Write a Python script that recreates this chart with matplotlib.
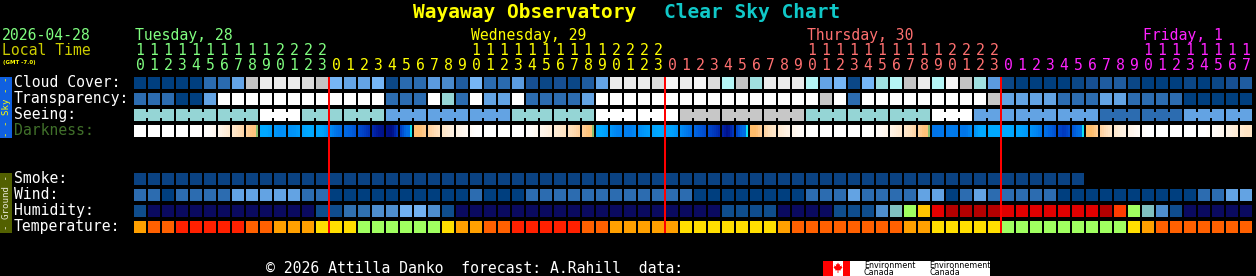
import numpy as np
import matplotlib
matplotlib.use("Agg")
import matplotlib.pyplot as plt
from matplotlib.colors import LinearSegmentedColormap
from matplotlib.patches import Rectangle, Polygon

plt.rcParams['font.family'] = ['DejaVu Sans Mono', 'DejaVu Sans']

# ---------------- data ----------------
SITE = "Wayaway Observatory"
CHART = "Clear Sky Chart"
DATE_TEXT = "2026-04-28"
LOCAL_TEXT = "Local Time"
TZ_TEXT = "(GMT -7.0)"
FOOTER = "\u00a9 2026 Attilla Danko  forecast: A.Rahill  data:"

DAY_NAMES = ["Tuesday, 28", "Wednesday, 29", "Thursday, 30", "Friday, 1"]

HOURS = [10, 11, 12, 13, 14, 15, 16, 17, 18, 19, 20, 21, 22, 23,
         0, 1, 2, 3, 4, 5, 6, 7, 8, 9, 10, 11, 12, 13, 14, 15, 16, 17, 18, 19, 20, 21, 22, 23,
         0, 1, 2, 3, 4, 5, 6, 7, 8, 9, 10, 11, 12, 13, 14, 15, 16, 17, 18, 19, 20, 21, 22, 23,
         0, 1, 2, 3, 4, 5, 6, 7, 8, 9, 10, 11, 12, 13, 14, 15, 16, 17]

SKY_LABELS = ["Cloud Cover:", "Transparency:", "Seeing:", "Darkness:"]
GROUND_LABELS = ["Smoke:", "Wind:", "Humidity:", "Temperature:"]

# cloud cover level (0 = clear ... 14 = overcast)
CLOUD_LEVEL = [0, 0, 0, 0, 0, 4, 4, 7, 11, 13,
               13, 13, 12, 11, 8, 7, 7, 8, 1, 4,
               4, 6, 5, 3, 8, 4, 4, 6, 2, 1,
               2, 1, 3, 7, 13, 13, 13, 12, 14, 13,
               14, 12, 10, 11, 9, 13, 13, 13, 10, 7,
               8, 1, 8, 9, 10, 11, 13, 10, 14, 11,
               9, 6, 1, 0, 0, 0, 0, 1, 2, 3,
               3, 1, 0, 0, 0, 1, 0, 1, 2, 3]

# transparency (0 transparent ... 4 poor, 5 too cloudy)
TRANSPARENCY_LEVEL = [1, 1, 1, 0, 0, 2, 5, 5, 5, 5,
                      5, 5, 5, 5, 5, 5, 5, 5, 1, 1,
                      1, 5, 3, 1, 5, 2, 2, 5, 1, 1,
                      1, 1, 2, 5, 5, 5, 5, 5, 5, 5,
                      5, 5, 5, 5, 5, 5, 5, 5, 5, 4,
                      5, 1, 5, 5, 5, 5, 5, 5, 5, 5,
                      5, 4, 2, 2, 2, 2, 1, 1, 1, 2,
                      2, 1, 1, 1, 1, 0, 0, 0, 0, 0]

# seeing per 3-hour block (0 excellent ... 4 bad, 5 too cloudy)
SEEING_LEVEL_3H = [3, 3, 3, 5, 3, 3, 2, 2, 2, 3, 3, 5, 5, 4,
                   4, 4, 3, 3, 3, 5, 2, 2, 2, 1, 1, 2, 2]

# darkness (0 daylight .. 4 twilight ; 7 moonlit .. 12 darkest)
DARKNESS = [0, 0, 0, 0, 0, 0.3, 1.2, 2.2, 3.5, 7,
            7.8, 7.6, 7, 7.1, 8.5, 9, 10, 11.3, 11.6, 8.7,
            3.7, 2.5, 1.5, 0.7, 0, 0, 0, 0, 0.3, 1,
            1.8, 2.5, 3.6, 7, 8, 8.3, 7.5, 7, 7.2, 8.3,
            9.3, 10.2, 11.5, 8.7, 3.8, 2.2, 1.2, 0.5, 0, 0,
            0, 0, 0, 0.5, 1.3, 2.2, 3.6, 8.5, 8.3, 8.5,
            7, 7, 7, 7.2, 8, 9, 10.3, 8.7, 3.8, 2.3,
            1.3, 0.6, 0, 0, 0, 0, 0, 0.5, 1.2, 2]

SMOKE_LEVEL = [0, 0, 0, 0, 0, 0, 0, 0, 0, 0,
               0, 0, 0, 0, 0, 0, 0, 0, 0, 0,
               0, 0, 0, 0, 0, 0, 0, 0, 0, 0,
               0, 0, 0, 0, 0, 0, 0, 0, 0, 0,
               0, 0, 0, 0, 0, 0, 0, 0, 0, 0,
               0, 0, 0, 0, 0, 0, 0, 0, 0, 0,
               0, 0, 0, 0, 0, 0, 0, 0]

# wind (0 = 0-5 mph, 1 = 6-11 mph, 2 = 12-16 mph)
WIND_LEVEL = [1, 1, 0, 1, 1, 1, 1, 2, 2, 2,
              2, 2, 1, 1, 0, 0, 0, 0, 0, 0,
              0, 0, 0, 0, 1, 0, 0, 0, 1, 1,
              1, 1, 1, 1, 1, 1, 1, 1, 1, 1,
              0, 0, 0, 0, 0, 0, 0, 0, 1, 1,
              1, 2, 1, 1, 1, 1, 2, 2, 0, 1,
              2, 1, 1, 1, 1, 1, 0, 0, 0, 0,
              0, 0, 0, 0, 0, 0, 1, 1, 2, 2]

HUMIDITY_PCT = [27, 20, 20, 20, 20, 20, 20, 20, 20, 20,
                20, 20, 20, 27, 27, 32, 32, 37, 37, 42,
                42, 37, 27, 20, 20, 20, 20, 20, 20, 20,
                20, 20, 20, 20, 20, 20, 20, 20, 20, 20,
                20, 20, 27, 27, 27, 27, 20, 20, 20, 20,
                27, 27, 27, 37, 47, 62, 72, 87, 92, 92,
                92, 92, 97, 97, 97, 97, 97, 97, 97, 92,
                82, 62, 47, 37, 27, 20, 20, 20, 20, 20]

TEMPERATURE_F = [79, 84, 84, 90, 90, 90, 90, 90, 84, 84,
                 79, 79, 79, 75, 75, 75, 68, 68, 68, 68,
                 68, 68, 75, 79, 79, 84, 84, 90, 90, 90,
                 90, 90, 84, 84, 79, 79, 79, 79, 79, 75,
                 75, 75, 75, 75, 75, 75, 79, 84, 84, 84,
                 84, 84, 84, 84, 84, 79, 79, 75, 75, 75,
                 75, 75, 68, 68, 68, 68, 68, 68, 68, 68,
                 68, 75, 79, 84, 84, 84, 84, 84, 84, 84]

# ---------------- styles ----------------
DAY_COLORS = ["#80ff80", "#ffff00", "#ff7070", "#ff22ff"]
CLOUD_COLORS = ['#003f7f', '#0b4787', '#164f93', '#1f5ca0', '#2a6bb0', '#4a8acc',
                '#5b9be0', '#64a4e6', '#76b6f6', '#a0e0e0', '#b5f6f6', '#c4c4c4',
                '#dcdcdc', '#ebebeb', '#f5f5f5']
TRANSP_COLORS = ['#003f7f', '#2c6cb0', '#63a3e3', '#95d5d5', '#c7c7c7', '#ffffff']
SEEING_COLORS = ['#003f7f', '#2c6cb0', '#63a3e3', '#95d5d5', '#c7c7c7', '#ffffff']
SMOKE_COLORS = ['#0a4282']
WIND_COLORS = ['#003f7f', '#2c6cb0', '#63a3e3']
HUMID_COLORS = {20: '#0a0a60', 27: '#0f4d8d', 32: '#3070b0', 37: '#4e8ece',
                42: '#71b1f1', 47: '#80c0c0', 62: '#a0ff60', 72: '#ffc400',
                82: '#ff3c00', 87: '#e60000', 92: '#b40000', 97: '#e00000'}
TEMP_COLORS = {68: '#a0ff60', 75: '#ffde00', 79: '#ffa000', 84: '#ff6000', 90: '#ff2000'}
DARK_CMAP = LinearSegmentedColormap.from_list('darkness', [
    (0 / 12, '#ffffff'), (1 / 12, '#fff2e4'), (2 / 12, '#ffe4c4'), (3 / 12, '#ffd09c'),
    (4 / 12, '#ffb860'), (5 / 12, '#88c070'), (6 / 12, '#00e0f0'), (7 / 12, '#00a8ff'),
    (8 / 12, '#0086f2'), (9 / 12, '#0062de'), (10 / 12, '#0040c4'), (11 / 12, '#0020a4'),
    (12 / 12, '#000068')])
SUNSET_STRIPE = '#88c070'
SUNRISE_STRIPE = '#10e0f0'

W, H = 1256, 276
X0, DX, CW, CH = 134, 14, 12, 12
SKY_TOPS = [77, 93, 109, 125]
GROUND_TOPS = [173, 189, 205, 221]
FS = 10.6

fig = plt.figure(figsize=(W / 100, H / 100), dpi=100, facecolor='black')
ax = fig.add_axes([0, 0, 1, 1])
ax.set_xlim(0, W)
ax.set_ylim(H, 0)
ax.axis('off')
ax.set_facecolor('black')

n = len(HOURS)
idx = np.arange(n)


def draw_row(top, colors):
    k = np.arange(len(colors))
    ax.bar(X0 + DX * k, CH, width=CW, bottom=top, align='edge', color=colors,
           linewidth=0, antialiased=False)


# sky rows
draw_row(SKY_TOPS[0], [CLOUD_COLORS[v] for v in CLOUD_LEVEL])
draw_row(SKY_TOPS[1], [TRANSP_COLORS[v] for v in TRANSPARENCY_LEVEL])
seeing_hourly = [SEEING_LEVEL_3H[i // 3] for i in range(n)]
draw_row(SKY_TOPS[2], [SEEING_COLORS[v] for v in seeing_hourly])
# seeing block connectors
cx, cc = [], []
for i in range(n - 1):
    if i // 3 == (i + 1) // 3:
        cx.append(X0 + DX * i + CW)
        cc.append(SEEING_COLORS[seeing_hourly[i]])
ax.bar(cx, 6, width=DX - CW, bottom=SKY_TOPS[2] + 3, align='edge', color=cc,
       linewidth=0, antialiased=False)

# darkness with sub-hour shading
NSUB = 6
NIGHT = 5
xs, cs = [], []
for i, v in enumerate(DARKNESS):
    night = v >= NIGHT
    for k in range(NSUB):
        t = (k + 0.5) / NSUB
        j = i - 1 if t < 0.5 else i + 1
        f = abs(t - 0.5)
        val = v
        if 0 <= j < n and (DARKNESS[j] >= NIGHT) == night:
            val = v + (DARKNESS[j] - v) * f
        col = DARK_CMAP(val / 12)
        if k == NSUB - 1 and j < n and (DARKNESS[j] >= NIGHT) != night:
            col = SUNRISE_STRIPE if night else SUNSET_STRIPE
        xs.append(X0 + DX * i + k * CW / NSUB)
        cs.append(col)
ax.bar(xs, CH, width=CW / NSUB, bottom=SKY_TOPS[3], align='edge', color=cs,
       linewidth=0, antialiased=False)

# ground rows
draw_row(GROUND_TOPS[0], [SMOKE_COLORS[v] for v in SMOKE_LEVEL])
draw_row(GROUND_TOPS[1], [WIND_COLORS[v] for v in WIND_LEVEL])
draw_row(GROUND_TOPS[2], [HUMID_COLORS[v] for v in HUMIDITY_PCT])
draw_row(GROUND_TOPS[3], [TEMP_COLORS[v] for v in TEMPERATURE_F])

# midnight red lines
mids = [i for i, h in enumerate(HOURS) if h == 0 and i > 0]
ax.vlines([X0 + DX * i - 1 for i in mids], SKY_TOPS[0], GROUND_TOPS[3] + CH,
          colors='#ff0000', linewidth=1.44, antialiased=False)

# row labels
for top, lab in zip(SKY_TOPS, SKY_LABELS):
    ax.text(14, top + 10, lab, color='#40702a' if lab.startswith('Dark') else 'white',
            fontsize=FS, va='baseline', ha='left')
for top, lab in zip(GROUND_TOPS, GROUND_LABELS):
    ax.text(14, top + 10, lab, color='white', fontsize=FS, va='baseline', ha='left')

# side bars
ax.add_patch(Rectangle((0, SKY_TOPS[0]), 12, SKY_TOPS[3] + CH + 1 - SKY_TOPS[0],
                       color='#1060e0', linewidth=0))
ax.text(6.5, (SKY_TOPS[0] + SKY_TOPS[3] + CH) / 2, "- - Sky - -", color='#ffff00',
        fontsize=6.6, rotation=90, ha='center', va='center')
ax.add_patch(Rectangle((0, GROUND_TOPS[0]), 12, GROUND_TOPS[3] + CH - GROUND_TOPS[0],
                       color='#526000', linewidth=0))
ax.text(6.5, (GROUND_TOPS[0] + GROUND_TOPS[3] + CH) / 2, "- Ground -", color='#e8e8d8',
        fontsize=6.6, rotation=90, ha='center', va='center')

# header: date, local time
ax.text(2, 40, DATE_TEXT, color='#80ff80', fontsize=FS, va='baseline')
ax.text(2, 55, LOCAL_TEXT, color='#cccc00', fontsize=FS, va='baseline')
ax.text(3, 64, TZ_TEXT, color='#ffff00', fontsize=4.0, va='baseline',
        family='DejaVu Sans', weight='bold')

# hour labels and day names
day = 0
day_of = []
for i, h in enumerate(HOURS):
    if h == 0 and i > 0:
        day += 1
    day_of.append(day)
for i, h in enumerate(HOURS):
    x = X0 + DX * i + CW / 2
    col = DAY_COLORS[day_of[i]]
    if h >= 10:
        ax.text(x, 55, str(h // 10), color=col, fontsize=FS, ha='center', va='baseline')
    ax.text(x, 70, str(h % 10), color=col, fontsize=FS, ha='center', va='baseline')
    if h == 10:
        ax.text(X0 + DX * i + 1, 40, DAY_NAMES[day_of[i]], color=col, fontsize=FS,
                ha='left', va='baseline')

# title
ax.text(413, 17.5, SITE, color='#ffff00', fontsize=14, weight='bold', va='baseline')
ax.text(664, 17.5, CHART, color='#10c8c8', fontsize=14, weight='bold', va='baseline')

# footer
ax.text(266, 272.7, FOOTER, color='white', fontsize=FS, va='baseline')

# Environment Canada logo
ax.add_patch(Rectangle((823, 261), 167, 16, color='white', linewidth=0))
ax.add_patch(Rectangle((823, 261), 10, 15, color='#ff0000', linewidth=0))
ax.add_patch(Rectangle((843, 261), 7, 15, color='#ff0000', linewidth=0))
leaf = np.array([(0, 1), (0.2, 0.6), (0.45, 0.75), (0.35, 0.3), (0.8, 0.45), (0.7, 0.2),
                 (0.9, 0.1), (0.5, -0.3), (0.55, -0.45), (0.08, -0.4), (0.08, -0.9),
                 (-0.08, -0.9), (-0.08, -0.4), (-0.55, -0.45), (-0.5, -0.3), (-0.9, 0.1),
                 (-0.7, 0.2), (-0.8, 0.45), (-0.35, 0.3), (-0.45, 0.75), (-0.2, 0.6)])
ax.add_patch(Polygon(np.column_stack([838 + leaf[:, 0] * 5, 268 - leaf[:, 1] * 5.5]),
                     closed=True, color='#ff0000', linewidth=0))
for xx, l1 in [(864, "Environment"), (929, "Environnement")]:
    ax.text(xx, 268, l1, color='black', fontsize=5.8, family='DejaVu Sans', va='baseline')
    ax.text(xx, 275, "Canada", color='black', fontsize=5.8, family='DejaVu Sans', va='baseline')

fig.savefig('out.png', dpi=100, facecolor='black')
